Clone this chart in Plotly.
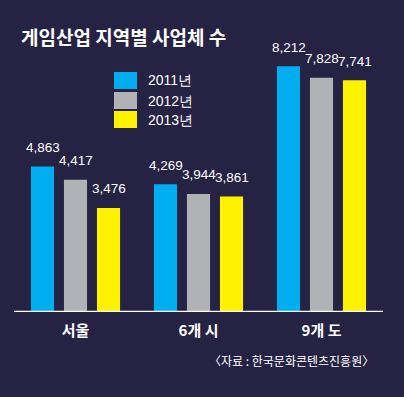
import plotly.graph_objects as go

categories = ["서울", "6개 시", "9개 도"]
years = ["2011년", "2012년", "2013년"]
values_2011 = [4863, 4269, 8212]
values_2012 = [4417, 3944, 7828]
values_2013 = [3476, 3861, 7741]
series = [values_2011, values_2012, values_2013]
colors = ["#00aeef", "#b1b2b6", "#fff200"]

BG = "#262244"
NUM_FONT = "Liberation Sans Narrow, Arial Narrow, Liberation Sans, sans-serif"
KR_FONT = "Noto Sans CJK KR, Noto Sans, sans-serif"

fig = go.Figure()
for name, vals, col in zip(years, series, colors):
    fig.add_trace(go.Bar(x=categories, y=vals, name=name, marker_color=col,
                         marker_line_width=0, showlegend=False, hoverinfo="skip"))

# value labels above bars
offsets = [-33, 0, 33]
for vals, off in zip(series, offsets):
    for c, v in zip(categories, vals):
        fig.add_annotation(x=c, y=v, text=f"{v:,}", showarrow=False,
                           xshift=off, yshift=19, yanchor="middle",
                           font=dict(family=NUM_FONT, size=13.5, color="white"))

# manual legend
leg_x0, leg_w = 114, 23
leg_tops = [72, 92, 111]
for name, col, top in zip(years, colors, leg_tops):
    fig.add_shape(type="rect", xref="paper", yref="paper",
                  x0=(leg_x0 - 14) / 369, x1=(leg_x0 + leg_w - 14) / 369,
                  y0=(312 - (top + 17)) / 250, y1=(312 - top) / 250,
                  fillcolor=col, line_width=0)
    fig.add_annotation(xref="paper", yref="paper", x=(146 - 14) / 369,
                       y=(312 - (top + 8.5)) / 250, text=name, showarrow=False,
                       xanchor="left", yanchor="middle",
                       font=dict(family=NUM_FONT, size=14, color="white"))

# baseline
fig.add_shape(type="line", xref="paper", yref="y", x0=0, x1=1, y0=0, y1=0,
              line=dict(color="white", width=2.5))

# source
fig.add_annotation(xref="paper", yref="paper", x=(376 - 14) / 369, y=(312 - 360) / 250,
                   text="〈자료 : 한국문화콘텐츠진흥원〉", showarrow=False,
                   xanchor="right", yanchor="middle",
                   font=dict(family=KR_FONT, size=12, color="white"))

fig.update_layout(
    width=404, height=397,
    margin=dict(l=14, r=21, t=62, b=85),
    paper_bgcolor=BG, plot_bgcolor=BG,
    barmode="group", bargap=0.195, bargroupgap=0.3,
    title=dict(text="<b>게임산업 지역별 사업체 수</b>", xref="container", yref="container",
               x=21 / 404, y=1 - 38 / 397, xanchor="left", yanchor="middle",
               font=dict(family=KR_FONT, size=19, color="white")),
    xaxis=dict(showgrid=False, zeroline=False, showline=False, ticks="",
               ticklabelstandoff=8, fixedrange=True,
               tickfont=dict(family=KR_FONT, size=15, color="white", weight="bold")),
    yaxis=dict(range=[0, 8350], showgrid=False, zeroline=False, showline=False,
               showticklabels=False, ticks="", fixedrange=True),
)

fig.write_html("out.html", config={"displayModeBar": False},
               post_script="document.body.style.margin='0';document.body.style.overflow='hidden';")
